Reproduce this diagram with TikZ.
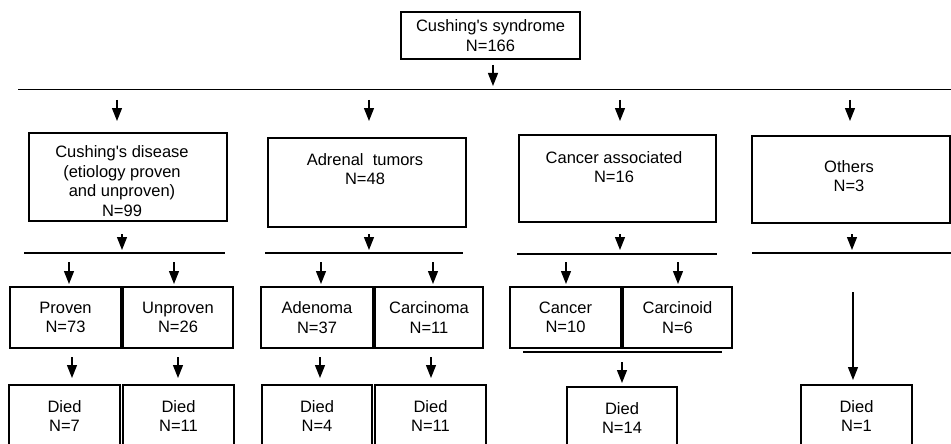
\documentclass[tikz,border=0pt]{standalone}
\usepackage{fontspec}
\setmainfont{Liberation Sans}
\usetikzlibrary{arrows.meta}
\newcommand\bx[6]{\node[box, minimum width={#4-#2}, minimum height={#5-#3}] (#1) at ({(#2+#4)/2},{(#3+#5)/2}) {#6};}
\newcommand\arw[3]{\draw[arr] (#1,#2) -- (#1,#3);}
\begin{document}
\begin{tikzpicture}[x=1pt,y=-1pt,
  every node/.style={font=\fontsize{16.5}{19.5}\selectfont, align=center, inner sep=0pt},
  box/.style={draw, line width=1.3pt},
  bus/.style={line width=1.3pt},
  arr/.style={line width=1.3pt, -{Triangle[width=10pt,length=13pt]}},
]
\path[use as bounding box] (0,0) rectangle (951,444);
\clip (0,0) rectangle (951,444);

% level 0
\bx{top}{401}{12}{580}{59}{Cushing\textquotesingle s syndrome\\N=166}

% level 1 boxes
\bx{cd}{29}{133}{227}{221}{}
\bx{ad}{268}{138}{466}{227}{}
\bx{ca}{519}{135}{716}{222}{}
\bx{ot}{752}{136}{950}{223}{}
\node (cdt) at (122,181) {Cushing\textquotesingle s disease\\(etiology proven\\and unproven)\\N=99};
\node (adt) at (365,169) {Adrenal\ \ tumors\\N=48};
\node (cat) at (614,167) {Cancer associated\\N=16};
\node (ott) at (849,176) {Others\\N=3};

% level 2 boxes
\bx{pr}{10}{287}{121}{348}{Proven\\N=73}
\bx{un}{123}{287}{233}{348}{Unproven\\N=26}
\bx{adn}{261}{287}{373}{348}{Adenoma\\N=37}
\bx{car}{375}{287}{483}{348}{Carcinoma\\N=11}
\bx{can}{510}{287}{621}{348}{Cancer\\N=10}
\bx{cnd}{623}{287}{732}{348}{Carcinoid\\N=6}

% level 3 boxes (cut off at bottom)
\bx{d1}{9}{385}{120}{447}{Died\\N=7}
\bx{d2}{123}{385}{234}{447}{Died\\N=11}
\bx{d3}{262}{385}{372}{447}{Died\\N=4}
\bx{d4}{375}{385}{486}{447}{Died\\N=11}
\bx{d5}{567}{387}{677}{449}{Died\\N=14}
\bx{d6}{801}{385}{912}{447}{Died\\N=1}

% bus lines
\coordinate (b0w) at (18,89.5);  \coordinate (b0e) at (952,89.5);
\coordinate (b1w) at (24,253);   \coordinate (b1e) at (225,253);
\coordinate (b2w) at (265,253);  \coordinate (b2e) at (463,253);
\coordinate (b3w) at (517,254);  \coordinate (b3e) at (717,254);
\coordinate (b4w) at (752,253);  \coordinate (b4e) at (952,253);
\coordinate (b5w) at (523,352);  \coordinate (b5e) at (722,352);
\draw[bus] (b0w) -- (b0e);
\draw[bus] (b1w) -- (b1e);
\draw[bus] (b2w) -- (b2e);
\draw[bus] (b3w) -- (b3e);
\draw[bus] (b4w) -- (b4e);
\draw[bus] (b5w) -- (b5e);

% arrows
\arw{493}{65}{86}
\foreach \x in {117,369,620,850} {\arw{\x}{100}{121}}
\foreach \x in {122,369,620,852} {\arw{\x}{234}{250}}
\foreach \x in {69,174,321,433,566,678} {\arw{\x}{262}{284}}
\foreach \x in {72,178,320,431} {\arw{\x}{357}{378}}
\arw{622}{362}{383}
\arw{853}{292}{380}
\end{tikzpicture}
\end{document}
